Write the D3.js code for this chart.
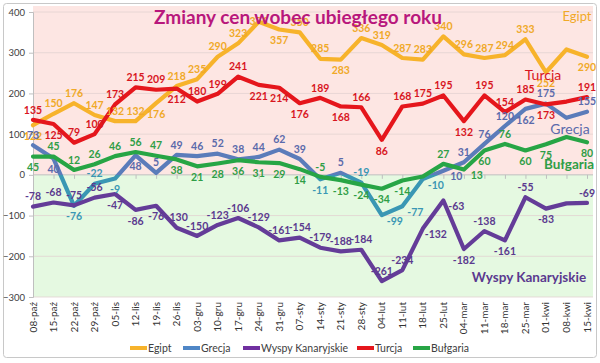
<!DOCTYPE html>
<html>
<head>
<meta charset="utf-8">
<script src="https://cdn.jsdelivr.net/npm/d3@7"></script>
<style>
  html, body { margin: 0; padding: 0; background: #fff; }
  svg { display: block; font-family: Lato, "Open Sans", sans-serif; }
</style>
</head>
<body>
<svg id="chart" width="600" height="363"></svg>
<script>
const categories = ['08-paź','15-paź','22-paź','29-paź','05-lis','12-lis','19-lis','26-lis','03-gru','10-gru','17-gru','24-gru','31-gru','07-sty','14-sty','21-sty','28-sty','04-lut','11-lut','18-lut','25-lut','04-mar','11-mar','18-mar','25-mar','01-kwi','08-kwi','15-kwi'];

const egipt    = [122,150,176,147,132,132,176,218,235,290,323,376,357,350,285,283,336,319,287,283,340,296,287,294,333,252,308,290];
const grecja   = [73,40,-76,-22,-9,48,5,49,46,52,38,44,62,39,-11,5,-19,-99,-77,-10,10,31,76,120,162,175,140,155];
const wyspy    = [-78,-68,-75,-56,-47,-86,-76,-130,-150,-123,-106,-129,-161,-154,-179,-188,-184,-261,-234,-132,-63,-182,-138,-161,-55,-83,-70,-69];
const turcja   = [135,125,79,100,173,215,209,212,180,199,241,221,214,176,189,168,166,86,168,175,195,132,195,154,185,173,180,191];
const bulgaria = [45,45,12,26,46,56,47,38,21,28,36,31,29,14,-5,-13,-24,-34,-14,-4,27,13,60,76,60,75,93,80];

const yTicks = [-300,-200,-100,0,100,200,300,400];

// where each value label sits: a = above, b = below, r = right, c = on point, - = none
const labelPlace = {
  egipt:    'baaaaabaaaacbaabaaaaaaaaab-b',
  grecja:   'abbabbaaaaaaaabaarrrraaaba-a',
  wyspy:    'aaaabbbaaaaaaaaaaaarrbabab-a',
  turcja:   'abaaaaabaaabbbababaaabaaab-a',
  bulgaria: 'baaaaaabbbbbbbabbbb-arbabb-b'
};

const series = [
  { key: 'egipt',    name: 'Egipt',             values: egipt,    color: '#f7b32b', label: '#f0a928', legend: '#f7b32b' },
  { key: 'grecja',   name: 'Grecja',            values: grecja,   color: '#5b7cba', label: '#5b6aab', labelNeg: '#3a97b4', legend: '#4f86c6' },
  { key: 'wyspy',    name: 'Wyspy Kanaryjskie', values: wyspy,    color: '#643c98', label: '#5b3a8f', legend: '#7030a0' },
  { key: 'turcja',   name: 'Turcja',            values: turcja,   color: '#e5161c', label: '#d8161e', legend: '#e5161c' },
  { key: 'bulgaria', name: 'Bułgaria',          values: bulgaria, color: '#27a545', label: '#2f9e46', legend: '#27a545' }
];

const svg = d3.select('#chart');
const W = 600;
const plotL = 33, plotR = 593, plotT = 12, plotB = 297;

const x = d3.scalePoint().domain(categories).range([plotL, 587]);
const y = d3.scaleLinear().domain([-300, 400]).range([plotB, plotT]);

// outer frame
svg.append('rect')
  .attr('x', 3.5).attr('y', 3.5).attr('width', W - 7).attr('height', 354)
  .attr('rx', 3).attr('fill', '#fff').attr('stroke', '#c8c8c8');

// plot background, pink above zero, green below
svg.append('rect')
  .attr('x', plotL).attr('y', 6).attr('width', plotR - plotL).attr('height', y(0) - 6)
  .attr('fill', '#fde6e3');
svg.append('rect')
  .attr('x', plotL).attr('y', y(0)).attr('width', plotR - plotL).attr('height', plotB - y(0))
  .attr('fill', '#e5f9e1');

// gridlines
svg.append('g')
  .selectAll('line')
  .data(yTicks.filter(d => d !== 0))
  .join('line')
  .attr('x1', plotL).attr('x2', plotR)
  .attr('y1', d => y(d)).attr('y2', d => y(d))
  .attr('stroke', '#e2d2d0').attr('stroke-width', 0.8);

// y axis
const yAxis = svg.append('g')
  .attr('transform', `translate(${plotL},0)`)
  .call(d3.axisLeft(y).tickValues(yTicks).tickSize(4).tickPadding(4));
yAxis.select('.domain').attr('stroke', '#bfbfbf');
yAxis.selectAll('.tick line').attr('stroke', '#bfbfbf');
yAxis.selectAll('text')
  .attr('fill', '#404040').attr('font-size', '9.5px').attr('font-family', 'Lato, sans-serif');

// zero axis with category ticks
const xAxis = svg.append('g')
  .attr('transform', `translate(0,${y(0)})`)
  .call(d3.axisBottom(x).tickSize(4).tickFormat(''));
xAxis.select('.domain').attr('stroke', '#bfbfbf').attr('d', `M${plotL},0H${plotR}`);
xAxis.selectAll('.tick line').attr('stroke', '#bfbfbf');

// category labels at the bottom
svg.append('g')
  .selectAll('text')
  .data(categories)
  .join('text')
  .attr('transform', d => `translate(${x(d) + 3.5},${plotB + 5}) rotate(-90)`)
  .attr('text-anchor', 'end')
  .attr('font-size', '10px')
  .attr('fill', '#333')
  .text(d => d);

// Grecja line changes colour below zero
const defs = svg.append('defs');
const grad = defs.append('linearGradient')
  .attr('id', 'grecjaGrad')
  .attr('gradientUnits', 'userSpaceOnUse')
  .attr('x1', 0).attr('x2', 0).attr('y1', plotT).attr('y2', plotB);
const z = (y(0) - plotT) / (plotB - plotT);
grad.append('stop').attr('offset', z).attr('stop-color', '#5b7cba');
grad.append('stop').attr('offset', z).attr('stop-color', '#3a97b4');

const line = d3.line()
  .x((d, i) => x(categories[i]))
  .y(d => y(d));

svg.append('g')
  .selectAll('path')
  .data(series)
  .join('path')
  .attr('d', s => line(s.values))
  .attr('fill', 'none')
  .attr('stroke', s => s.key === 'grecja' ? 'url(#grecjaGrad)' : s.color)
  .attr('stroke-width', 4.2)
  .attr('stroke-linejoin', 'round')
  .attr('stroke-linecap', 'round');

// value labels
const offsets = { a: [0, -10], b: [0, 11], c: [0, 0], r: [13, 6] };
const labelData = [];
series.forEach(s => {
  s.values.forEach((v, i) => {
    const p = labelPlace[s.key][i];
    if (p === '-') return;
    const o = offsets[p];
    labelData.push({
      x: x(categories[i]) + o[0],
      y: y(v) + o[1],
      text: v,
      color: (s.labelNeg && v < 0) ? s.labelNeg : s.label
    });
  });
});

svg.append('g')
  .selectAll('text')
  .data(labelData)
  .join('text')
  .attr('x', d => d.x)
  .attr('y', d => d.y)
  .attr('dy', '0.35em')
  .attr('text-anchor', 'middle')
  .attr('font-size', '10.5px')
  .attr('font-weight', 'bold')
  .attr('fill', d => d.color)
  .text(d => d.text);

// series names inside the plot
const names = [
  { text: 'Egipt', x: 577, y: 16, color: '#f0a928', size: 13, weight: 'normal' },
  { text: 'Turcja', x: 543, y: 75, color: '#d8161e', size: 14, weight: 'normal' },
  { text: 'Grecja', x: 570, y: 129, color: '#5b6aab', size: 14, weight: 'normal' },
  { text: 'Bułgaria', x: 569, y: 164, color: '#2f9e46', size: 13.5, weight: 'bold' },
  { text: 'Wyspy Kanaryjskie', x: 529, y: 277, color: '#5b3a8f', size: 13.5, weight: 'bold' }
];
svg.append('g')
  .selectAll('text')
  .data(names)
  .join('text')
  .attr('x', d => d.x).attr('y', d => d.y)
  .attr('dy', '0.35em')
  .attr('text-anchor', 'middle')
  .attr('font-size', d => d.size + 'px')
  .attr('font-weight', d => d.weight)
  .attr('fill', d => d.color)
  .text(d => d.text);

// title
svg.append('text')
  .attr('x', 298).attr('y', 24)
  .attr('text-anchor', 'middle')
  .attr('font-size', '19px')
  .attr('font-weight', 'bold')
  .attr('fill', '#b8177c')
  .text('Zmiany cen wobec ubiegłego roku');

// legend
const legendX = [130, 183, 243, 357, 413];
const legend = svg.append('g')
  .selectAll('g')
  .data(series)
  .join('g')
  .attr('transform', (s, i) => `translate(${legendX[i]},348)`);
legend.append('line')
  .attr('x1', 0).attr('x2', 17)
  .attr('stroke', s => s.legend).attr('stroke-width', 4);
legend.append('text')
  .attr('x', 18).attr('dy', '0.35em')
  .attr('font-size', '10.5px')
  .attr('fill', '#404040')
  .text(s => s.name);
</script>
</body>
</html>
